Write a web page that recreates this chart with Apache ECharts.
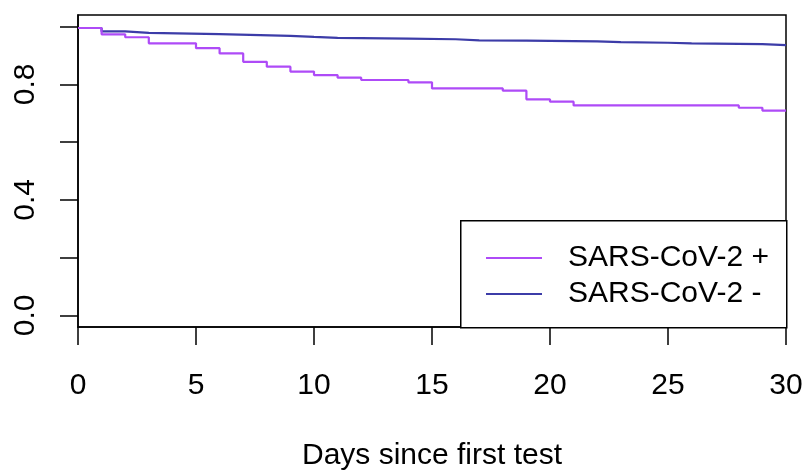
<!DOCTYPE html>
<html>
<head>
<meta charset="utf-8">
<script src="https://cdn.jsdelivr.net/npm/echarts@6/dist/echarts.min.js"></script>
<style>
html,body{margin:0;padding:0;background:#fff;}
#chart{width:806px;height:472px;}
</style>
</head>
<body>
<div id="chart"></div>
<script>
// Kaplan-Meier style step data: [day, survival]
const posDays = [0, 1, 2, 3, 5, 6, 7, 8, 9, 10, 11, 12, 14, 15, 18, 19, 20, 21, 28, 29, 30];
const posSurv = [0.995, 0.973, 0.963, 0.942, 0.925, 0.907, 0.878, 0.861, 0.844, 0.832, 0.823, 0.815, 0.807, 0.786, 0.778, 0.748, 0.740, 0.727, 0.719, 0.709, 0.709];
const negDays = [0, 1, 2, 3, 6, 9, 10, 11, 13, 14, 16, 17, 19, 22, 23, 25, 26, 29, 30];
const negSurv = [0.995, 0.983, 0.978, 0.974, 0.968, 0.964, 0.961, 0.959, 0.958, 0.956, 0.952, 0.951, 0.949, 0.946, 0.944, 0.942, 0.939, 0.936, 0.936];
const seriesNames = ['SARS-CoV-2 +', 'SARS-CoV-2 -'];
const xTicks = [0, 5, 10, 15, 20, 25, 30];
const yTicks = [0, 0.2, 0.4, 0.6, 0.8, 1.0];
const yLabels = [0, 0.4, 0.8];
const xTitle = 'Days since first test';

const posData = posDays.map((d, i) => [d, posSurv[i]]);
const negData = negDays.map((d, i) => [d, negSurv[i]]);

const FONT = 'Liberation Sans, Arial, Helvetica, sans-serif';
const FS = 30;

const chart = echarts.init(document.getElementById('chart'), null, {renderer: 'canvas'});
chart.setOption({
  animation: false,
  backgroundColor: '#fff',
  grid: {
    left: 78, right: 20, top: 15, bottom: 145,
    outerBoundsMode: 'none', containLabel: false,
    show: true, borderColor: '#000', borderWidth: 1.5, backgroundColor: 'transparent'
  },
  xAxis: {
    type: 'value', min: 0, max: 30, interval: 5,
    name: xTitle, nameLocation: 'middle', nameGap: 114,
    nameTextStyle: {fontFamily: FONT, fontSize: FS, color: '#000'},
    axisLine: {show: true, onZero: false, lineStyle: {color: '#000', width: 1.5}},
    axisTick: {show: true, length: 18, lineStyle: {color: '#000', width: 1.5}, customValues: xTicks},
    axisLabel: {show: true, margin: 44, fontFamily: FONT, fontSize: FS, color: '#000', customValues: xTicks},
    splitLine: {show: false}
  },
  yAxis: {
    type: 'value', min: -0.04, max: 1.04,
    axisLine: {show: true, onZero: false, lineStyle: {color: '#000', width: 1.5}},
    axisTick: {show: true, length: 18, lineStyle: {color: '#000', width: 1.5}, customValues: yTicks},
    axisLabel: {
      show: true, rotate: 90, margin: 37, fontFamily: FONT, fontSize: FS, color: '#000',
      customValues: yLabels,
      formatter: v => Number(v).toFixed(1)
    },
    splitLine: {show: false}
  },
  legend: {
    orient: 'vertical', left: 481, top: 238, z: 100,
    icon: 'rect', itemWidth: 56, itemHeight: 2.2, itemGap: 6,
    textStyle: {fontFamily: FONT, fontSize: FS, color: '#000', lineHeight: 30, padding: [0, 0, 0, 21]},
    data: seriesNames
  },
  graphic: [{
    type: 'rect', left: 460, top: 220, z: 10,
    shape: {width: 326, height: 107},
    style: {fill: '#fff', stroke: '#000', lineWidth: 1.5}
  }],
  series: [
    {
      name: seriesNames[0], type: 'line', step: 'end', data: posData,
      symbol: 'none', lineStyle: {color: '#AE4BF7', width: 2.2}, itemStyle: {color: '#AE4BF7'}, z: 3
    },
    {
      name: seriesNames[1], type: 'line', step: 'end', data: negData,
      symbol: 'none', lineStyle: {color: '#3C3CA8', width: 2.2}, itemStyle: {color: '#3C3CA8'}, z: 2
    }
  ]
});
</script>
</body>
</html>
